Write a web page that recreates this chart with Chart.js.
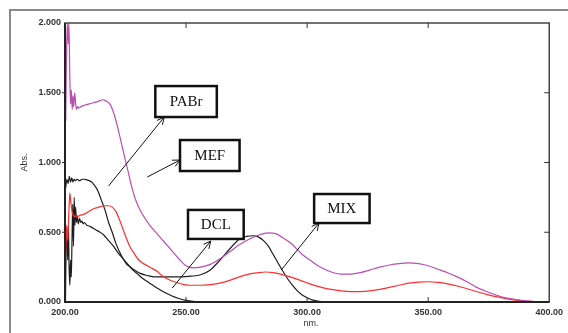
<!DOCTYPE html>
<html>
<head>
<meta charset="utf-8">
<script src="https://cdn.jsdelivr.net/npm/chart.js@4"></script>
<style>
  html, body { margin: 0; padding: 0; background: #fff; }
  #wrap { width: 568px; height: 333px; position: relative; }
</style>
</head>
<body>
<div id="wrap"><canvas id="chartSpectra"></canvas></div>
<script>
// wavelengths (nm) and absorbances
const magentaNm = [200.3, 200.6, 201.0, 201.3, 201.6, 202.0, 202.3, 202.6, 203.0, 203.3, 203.6, 204.0, 204.4, 204.8, 205.2, 205.8, 206.5, 208, 210, 212, 214, 215.5, 217, 218.5, 220, 221.5, 223, 224.5, 226, 227.5, 229, 231, 233, 235, 238, 241, 244, 247, 250, 253, 256, 260, 264, 268, 272, 276, 280, 284, 287, 290, 294, 298, 302, 306, 310, 314, 318, 322, 326, 330, 334, 338, 342, 346, 350, 354, 358, 362, 366, 370, 374, 378, 382, 386, 390, 394, 398, 400];
const magentaAbs = [1.30, 1.75, 2.0, 1.85, 2.0, 1.6, 1.42, 1.52, 1.38, 1.48, 1.40, 1.50, 1.42, 1.38, 1.40, 1.39, 1.40, 1.41, 1.42, 1.43, 1.44, 1.45, 1.44, 1.42, 1.36, 1.27, 1.16, 1.05, 0.94, 0.83, 0.74, 0.66, 0.60, 0.55, 0.49, 0.43, 0.37, 0.31, 0.26, 0.245, 0.25, 0.27, 0.31, 0.36, 0.41, 0.45, 0.48, 0.495, 0.49, 0.46, 0.41, 0.34, 0.29, 0.245, 0.215, 0.20, 0.20, 0.21, 0.23, 0.25, 0.265, 0.275, 0.28, 0.275, 0.26, 0.235, 0.21, 0.18, 0.145, 0.105, 0.075, 0.05, 0.03, 0.018, 0.008, 0.003, 0.001, 0];

const redNm = [200.3, 200.7, 201.1, 201.5, 202.0, 202.5, 203.0, 203.5, 204.0, 204.5, 205, 206, 208, 210, 212, 214, 216, 218, 219.5, 221, 222.5, 224, 225.5, 227, 228.5, 230, 232, 234, 236, 238, 240, 243, 246, 249, 252, 256, 260, 264, 268, 272, 276, 280, 283, 286, 290, 294, 298, 302, 306, 310, 314, 318, 322, 326, 330, 334, 338, 342, 346, 350, 354, 358, 362, 366, 370, 374, 378, 382, 386, 390, 394, 398, 400];
const redAbs = [0.35, 0.55, 0.44, 0.60, 0.78, 0.70, 0.64, 0.62, 0.61, 0.62, 0.61, 0.62, 0.63, 0.65, 0.67, 0.68, 0.69, 0.69, 0.68, 0.65, 0.59, 0.52, 0.45, 0.39, 0.35, 0.31, 0.28, 0.26, 0.24, 0.22, 0.19, 0.16, 0.14, 0.125, 0.12, 0.12, 0.125, 0.135, 0.155, 0.18, 0.20, 0.21, 0.215, 0.21, 0.195, 0.175, 0.15, 0.125, 0.105, 0.09, 0.08, 0.075, 0.075, 0.08, 0.09, 0.105, 0.12, 0.135, 0.143, 0.145, 0.14, 0.13, 0.115, 0.095, 0.075, 0.055, 0.038, 0.024, 0.014, 0.007, 0.003, 0.001, 0];

const blackANm = [200.3, 200.8, 201.3, 201.8, 202.3, 202.8, 203.3, 203.8, 204.3, 205, 206, 207, 208, 209, 210, 211, 212, 213.5, 215, 216.5, 218, 219.5, 221, 222.5, 224, 225.5, 227, 229, 231, 234, 237, 240, 244, 248, 252, 256, 260, 264, 268, 272, 275, 278, 280, 282, 284, 286, 288, 290, 292, 294, 296, 298, 300, 302, 305, 308, 312, 318];
const blackAAbs = [0.82, 0.88, 0.85, 0.90, 0.86, 0.89, 0.86, 0.88, 0.87, 0.88, 0.87, 0.88, 0.88, 0.875, 0.87, 0.86, 0.84, 0.80, 0.73, 0.66, 0.57, 0.50, 0.42, 0.36, 0.31, 0.27, 0.25, 0.225, 0.205, 0.19, 0.18, 0.18, 0.18, 0.18, 0.185, 0.195, 0.23, 0.30, 0.38, 0.45, 0.47, 0.475, 0.465, 0.44, 0.40, 0.34, 0.28, 0.22, 0.165, 0.12, 0.08, 0.05, 0.03, 0.015, 0.005, 0.002, 0, 0];

const blackBNm = [200.2, 200.5, 200.8, 201.1, 201.4, 201.7, 202.0, 202.3, 202.6, 202.9, 203.2, 203.5, 203.8, 204.1, 204.4, 204.7, 205.0, 205.5, 206, 206.5, 207, 207.5, 208, 209, 210, 211, 212, 213, 214, 216, 218, 220, 222, 224, 226, 228, 230, 232, 235, 238, 241, 244, 247, 250, 253, 256];
const blackBAbs = [0.0, 0.45, 0.52, 0.30, 0.55, 0.25, 0.12, 0.30, 0.18, 0.45, 0.70, 0.40, 0.75, 0.55, 0.68, 0.57, 0.62, 0.56, 0.60, 0.57, 0.58, 0.56, 0.57, 0.55, 0.545, 0.535, 0.525, 0.515, 0.505, 0.48, 0.44, 0.40, 0.35, 0.31, 0.27, 0.23, 0.20, 0.17, 0.135, 0.10, 0.07, 0.045, 0.025, 0.012, 0.005, 0.002];

const xTicks = [200, 250, 300, 350, 400];
const yTicks = [0, 0.5, 1.0, 1.5, 2.0];

// callout boxes: text, box corners (nm, Abs), arrow tail -> head (nm, Abs)
const callouts = [
    { text: 'PABr', box: [237.3, 1.548, 262.7, 1.326], from: [218.0, 0.832], to: [241.0, 1.326] },
    { text: 'MEF',  box: [247.5, 1.161, 272.1, 0.939], from: [234.0, 0.896], to: [247.5, 1.018] },
    { text: 'DCL',  box: [250.8, 0.660, 273.8, 0.452], from: [244.3, 0.100], to: [260.2, 0.437] },
    { text: 'MIX',  box: [302.9, 0.774, 325.8, 0.566], from: [289.3, 0.229], to: [304.9, 0.566] }
];

const toPoints = (xs, ys) => xs.map((x, i) => ({ x: x, y: ys[i] }));

const line = (data, color) => ({
    data: data,
    borderColor: color,
    borderWidth: 1.2,
    pointRadius: 0,
    fill: false,
    cubicInterpolationMode: 'monotone'
});

const tickFont = { family: '"Liberation Sans", Arial, sans-serif', size: 9, weight: 'bold' };

const framePlugin = {
    id: 'frame',
    beforeDraw(chart) {
        const c = chart.ctx;
        c.save();
        c.strokeStyle = '#8a8a8a';
        c.lineWidth = 2;
        c.beginPath();
        c.moveTo(10, 333);
        c.lineTo(10, 10);
        c.lineTo(568, 10);
        c.stroke();
        c.restore();
    },
    afterDraw(chart) {
        const c = chart.ctx;
        const a = chart.chartArea;
        const xs = chart.scales.x, ys = chart.scales.y;
        c.save();
        c.strokeStyle = '#444';
        c.lineWidth = 1.5;
        c.strokeRect(a.left, a.top, a.right - a.left, a.bottom - a.top);
        c.strokeStyle = '#222';
        c.lineWidth = 2;
        c.beginPath();
        c.moveTo(a.left, a.top);
        c.lineTo(a.left, a.bottom);
        c.lineTo(a.right, a.bottom);
        c.stroke();
        // inner ticks
        c.lineWidth = 1;
        c.strokeStyle = '#333';
        c.beginPath();
        xTicks.slice(1, -1).forEach(v => {
            const px = xs.getPixelForValue(v);
            c.moveTo(px, a.bottom); c.lineTo(px, a.bottom - 5);
            c.moveTo(px, a.top); c.lineTo(px, a.top + 5);
        });
        yTicks.slice(1, -1).forEach(v => {
            const py = ys.getPixelForValue(v);
            c.moveTo(a.right, py); c.lineTo(a.right - 5, py);
            c.moveTo(a.left, py); c.lineTo(a.left - 3, py);
        });
        c.stroke();

        // axis titles
        c.fillStyle = '#333';
        c.font = '9px "Liberation Sans", Arial, sans-serif';
        c.textAlign = 'center';
        c.textBaseline = 'middle';
        c.fillText('nm.', (a.left + a.right) / 2 + 4, 324);
        c.save();
        c.translate(25, ys.getPixelForValue(1.0));
        c.rotate(-Math.PI / 2);
        c.fillText('Abs.', 0, 0);
        c.restore();

        // callouts
        callouts.forEach(o => {
            const x1 = xs.getPixelForValue(o.box[0]), y1 = ys.getPixelForValue(o.box[1]);
            const x2 = xs.getPixelForValue(o.box[2]), y2 = ys.getPixelForValue(o.box[3]);
            const fx = xs.getPixelForValue(o.from[0]), fy = ys.getPixelForValue(o.from[1]);
            const tx = xs.getPixelForValue(o.to[0]), ty = ys.getPixelForValue(o.to[1]);
            c.strokeStyle = '#111';
            c.lineWidth = 1;
            c.beginPath();
            c.moveTo(fx, fy);
            c.lineTo(tx, ty);
            const ang = Math.atan2(ty - fy, tx - fx);
            c.moveTo(tx, ty);
            c.lineTo(tx - 8 * Math.cos(ang - 0.45), ty - 8 * Math.sin(ang - 0.45));
            c.moveTo(tx, ty);
            c.lineTo(tx - 8 * Math.cos(ang + 0.45), ty - 8 * Math.sin(ang + 0.45));
            c.stroke();
            c.fillStyle = '#fff';
            c.fillRect(x1, y1, x2 - x1, y2 - y1);
            c.lineWidth = 2.5;
            c.strokeRect(x1, y1, x2 - x1, y2 - y1);
            c.fillStyle = '#111';
            c.font = '15px "Liberation Serif", "Times New Roman", serif';
            c.textAlign = 'center';
            c.textBaseline = 'middle';
            c.fillText(o.text, (x1 + x2) / 2, (y1 + y2) / 2 + 1);
        });
        c.restore();
    }
};

const ctx = document.getElementById('chartSpectra');
new Chart(ctx, {
    type: 'line',
    data: {
        datasets: [
            line(toPoints(magentaNm, magentaAbs), '#bb4db3'),
            line(toPoints(redNm, redAbs), '#ff2f2f'),
            line(toPoints(blackANm, blackAAbs), '#1e1e1e'),
            line(toPoints(blackBNm, blackBAbs), '#1e1e1e')
        ]
    },
    options: {
        responsive: true,
        maintainAspectRatio: false,
        animation: false,
        events: [],
        layout: { padding: { top: 23, right: 15, left: 0, bottom: 0 } },
        plugins: { legend: { display: false }, tooltip: { enabled: false } },
        scales: {
            x: {
                type: 'linear',
                min: 200,
                max: 400,
                afterBuildTicks: s => { s.ticks = xTicks.map(v => ({ value: v })); },
                afterFit: s => { s.height = 31; },
                grid: { display: false, drawTicks: false },
                border: { display: false },
                ticks: {
                    padding: 5,
                    maxRotation: 0,
                    color: '#333',
                    font: tickFont,
                    callback: v => v.toFixed(2)
                }
            },
            y: {
                min: 0,
                max: 2,
                afterBuildTicks: s => { s.ticks = yTicks.map(v => ({ value: v })); },
                afterFit: s => { s.width = 65; },
                grid: { display: false, drawTicks: false },
                border: { display: false },
                ticks: {
                    padding: 4,
                    color: '#333',
                    font: tickFont,
                    callback: v => v.toFixed(3)
                }
            }
        }
    },
    plugins: [framePlugin]
});
</script>
</body>
</html>
